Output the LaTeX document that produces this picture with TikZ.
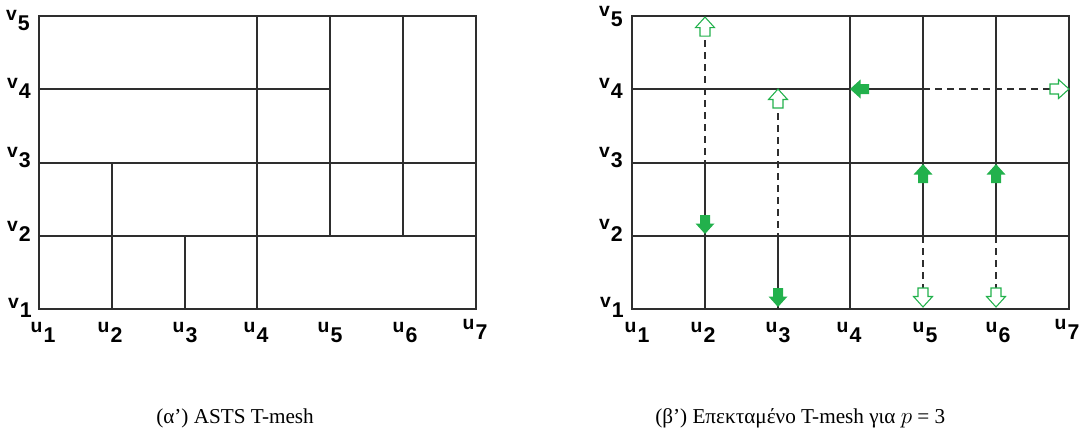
\documentclass[tikz,border=0pt]{standalone}
\usepackage{fontspec}
\setmainfont{Liberation Serif}
\newfontfamily\lblfont{Liberation Sans Bold}
\definecolor{arrgreen}{RGB}{34,177,76}
\newcommand\meshlab[3][7.5pt]{{\lblfont\fontsize{14.5}{14}\selectfont #2}\kern0.8pt\raisebox{-#1}{\lblfont\fontsize{16}{16}\selectfont #3}}
\begin{document}
\begin{tikzpicture}[x=0.75pt,y=-0.75pt,
  mesh/.style={line width=1.5pt,draw=black!82},
  ext/.style={line width=1.3pt,dash pattern=on 5.25pt off 3.75pt,draw=black!82},
  lbl/.style={inner sep=0pt},
  captxt/.style={inner sep=0pt,anchor=base west,font=\fontsize{15.9}{18}\selectfont},
  solidarr/.style={fill=arrgreen,draw=none},
  openarr/.style={fill=white,draw=arrgreen,line width=0.8pt,line join=miter},
  pics/blockarrow/.style={code={\path[#1] (0,0) -- (-10.5,9.5) -- (-10.5,5) -- (-19,5) -- (-19,-5) -- (-10.5,-5) -- (-10.5,-9.5) -- cycle;}}
]
\path[use as bounding box] (0,0) rectangle (1084,433);

\foreach \i/\xl/\xr in {1/39/632,2/112/705,3/185/778,4/257/850,5/330/923,6/403/996,7/476/1069}{
  \foreach \j/\y in {1/309,2/236,3/163,4/89,5/16}{
    \coordinate (L-\i-\j) at (\xl,\y);
    \coordinate (R-\i-\j) at (\xr,\y);
  }
}

% ---------- left mesh ----------
\draw[mesh] (L-1-1) rectangle (L-7-5);
\draw[mesh] (L-1-4) -- (L-5-4);
\draw[mesh] (L-1-3) -- (L-7-3);
\draw[mesh] (L-1-2) -- (L-7-2);
\draw[mesh] (L-2-3) -- (L-2-1);
\draw[mesh] (L-3-2) -- (L-3-1);
\draw[mesh] (L-4-5) -- (L-4-1);
\draw[mesh] (L-5-5) -- (L-5-2);
\draw[mesh] (L-6-5) -- (L-6-2);

% ---------- right mesh ----------
\draw[ext] (R-2-5) -- (R-2-3);
\draw[ext] (R-3-4) -- (R-3-2);
\draw[ext] (R-5-2) -- (R-5-1);
\draw[ext] (R-6-2) -- (R-6-1);
\draw[ext] (R-5-4) -- (R-7-4);
\draw[mesh] (R-1-1) rectangle (R-7-5);
\draw[mesh] (R-1-4) -- (R-5-4);
\draw[mesh] (R-1-3) -- (R-7-3);
\draw[mesh] (R-1-2) -- (R-7-2);
\draw[mesh] (R-2-3) -- (R-2-1);
\draw[mesh] (R-3-2) -- (R-3-1);
\draw[mesh] (R-4-5) -- (R-4-1);
\draw[mesh] (R-5-5) -- (R-5-2);
\draw[mesh] (R-6-5) -- (R-6-2);

% arrows
\pic[rotate=180] at (R-4-4) {blockarrow=solidarr};
\pic[rotate=-90] at ([yshift=1.5pt]R-2-2) {blockarrow=solidarr};
\pic[rotate=-90] at ([yshift=1.5pt]R-3-1) {blockarrow=solidarr};
\pic[rotate=90] at ([yshift=-0.8pt]R-5-3) {blockarrow=solidarr};
\pic[rotate=90] at ([yshift=-0.8pt]R-6-3) {blockarrow=solidarr};
\pic[rotate=90] at ([yshift=-0.8pt]R-2-5) {blockarrow=openarr};
\pic[rotate=90] at (R-3-4) {blockarrow=openarr};
\pic[rotate=-90] at ([yshift=1.5pt]R-5-1) {blockarrow=openarr};
\pic[rotate=-90] at ([yshift=1.5pt]R-6-1) {blockarrow=openarr};
\pic[rotate=0] at (R-7-4) {blockarrow=openarr};

% ---------- labels left ----------
\node[lbl,anchor=base east] (Lv5) at (30,20) {\meshlab[8pt]{v}{5}};
\node[lbl,anchor=base east] (Lv4) at (31,88) {\meshlab{v}{4}};
\node[lbl,anchor=base east] (Lv3) at (31,157) {\meshlab{v}{3}};
\node[lbl,anchor=base east] (Lv2) at (31,231) {\meshlab{v}{2}};
\node[lbl,anchor=base east] (Lv1) at (32,308) {\meshlab[7pt]{v}{1}};
\node[lbl,anchor=base] (Lu1) at (43,332) {\meshlab{u}{1}};
\node[lbl,anchor=base] (Lu2) at (110,332) {\meshlab{u}{2}};
\node[lbl,anchor=base] (Lu3) at (185,332) {\meshlab{u}{3}};
\node[lbl,anchor=base] (Lu4) at (256,332) {\meshlab{u}{4}};
\node[lbl,anchor=base] (Lu5) at (330,332) {\meshlab{u}{5}};
\node[lbl,anchor=base] (Lu6) at (405,332) {\meshlab{u}{6}};
\node[lbl,anchor=base] (Lu7) at (475,329) {\meshlab{u}{7}};

% ---------- labels right ----------
\node[lbl,anchor=base east] (Rv5) at (623,16) {\meshlab[8pt]{v}{5}};
\node[lbl,anchor=base east] (Rv4) at (623,88) {\meshlab{v}{4}};
\node[lbl,anchor=base east] (Rv3) at (623,157) {\meshlab{v}{3}};
\node[lbl,anchor=base east] (Rv2) at (623,229) {\meshlab[9pt]{v}{2}};
\node[lbl,anchor=base east] (Rv1) at (624,307) {\meshlab{v}{1}};
\node[lbl,anchor=base] (Ru1) at (637,332) {\meshlab{u}{1}};
\node[lbl,anchor=base] (Ru2) at (703,332) {\meshlab{u}{2}};
\node[lbl,anchor=base] (Ru3) at (778,332) {\meshlab{u}{3}};
\node[lbl,anchor=base] (Ru4) at (849,332) {\meshlab{u}{4}};
\node[lbl,anchor=base] (Ru5) at (925,332) {\meshlab{u}{5}};
\node[lbl,anchor=base] (Ru6) at (998,332) {\meshlab{u}{6}};
\node[lbl,anchor=base] (Ru7) at (1067,329) {\meshlab{u}{7}};

% ---------- captions ----------
\node[captxt] (capA) at (156,423) {(α’) ASTS T-mesh};
\node[captxt] (capB) at (655,423) {(β’) Επεκταμένο T-mesh για $p$ = 3};
\end{tikzpicture}
\end{document}
